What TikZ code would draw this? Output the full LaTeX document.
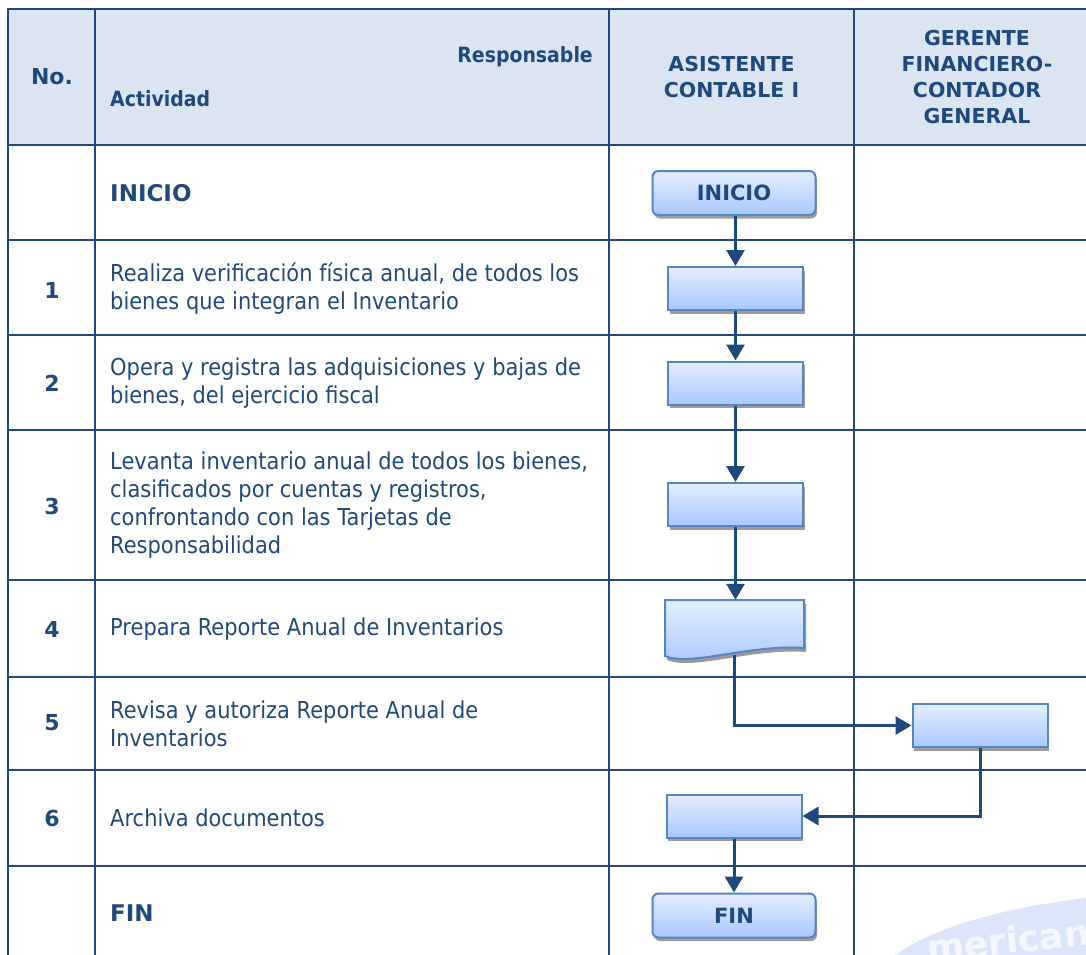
\documentclass[tikz,border=0pt]{standalone}
\usepackage{fontspec}
\setmainfont{DejaVu Sans}[FakeStretch=0.9]
\newfontfamily\capsfont{DejaVu Sans}
\usetikzlibrary{arrows.meta,shadows,calc}
\definecolor{navy}{HTML}{1F497D}
\definecolor{hdrfill}{HTML}{DBE5F1}
\definecolor{boxtop}{HTML}{E4EEFF}
\definecolor{boxbot}{HTML}{A8C8FF}
\definecolor{boxedge}{HTML}{5585C5}
\definecolor{wmblue}{HTML}{DCE6FA}
\begin{document}
\begin{tikzpicture}[x=1pt,y=-1pt,
  grid/.style={draw=navy, line width=2.8pt},
  stepbox/.style={draw=boxedge, line width=2pt, top color=boxtop, bottom color=boxbot,
    minimum width=135pt, minimum height=43pt, inner sep=0pt,
    drop shadow={shadow xshift=1.5pt, shadow yshift=-3.5pt, fill=black!45, opacity=.85}},
  termbox/.style={stepbox, rounded corners=6pt, minimum width=163pt, minimum height=44pt,
    font=\capsfont\bfseries\fontsize{21}{24}\selectfont, text=navy},
  docarea/.style={minimum width=139pt, minimum height=55pt, inner sep=0pt},
  num/.style={font=\capsfont\bfseries\fontsize{22}{24}\selectfont, text=navy, inner sep=0pt},
  capl/.style={font=\capsfont\bfseries\fontsize{23}{24}\selectfont, text=navy, inner sep=0pt, anchor=west},
  hdrb/.style={font=\bfseries\fontsize{21}{24}\selectfont, text=navy, inner sep=0pt},
  hdrc/.style={font=\capsfont\bfseries\fontsize{20.5}{26}\selectfont, text=navy, inner sep=0pt, align=center},
  act/.style={anchor=west, align=left, font=\fontsize{23.3}{28}\selectfont, text=navy, inner sep=0pt},
  conn/.style={draw=navy, line width=3pt, -{Triangle[width=18pt,length=16pt]}}
]
\useasboundingbox (0,0) rectangle (1086,954);
\clip (0,0) rectangle (1086,954);

% watermark
\fill[wmblue] (1195,1000) ellipse [x radius=330, y radius=108];
\node[font=\capsfont\bfseries\fontsize{36}{40}\selectfont, text=white, opacity=.7, rotate=6,
  anchor=base west, inner sep=0pt] (wmtext) at (928,962) {merican};

% header
\fill[hdrfill] (8,9) rectangle (1086,145);

% grid
\foreach \yy in {9,145,240,335,430,580,677,770,866}
  \draw[grid] (6.6,\yy) -- (1090,\yy);
\foreach \xx in {8,95,609,854}
  \draw[grid] (\xx,7.6) -- (\xx,960);

% header texts
\node[num] (hno) at (52,77) {No.};
\node[hdrb, anchor=east] (hresp) at (593,57) {Responsable};
\node[hdrb, anchor=west] (hact) at (110,99) {Actividad};
\node[hdrc] (hasis) at (731.5,77) {ASISTENTE\\CONTABLE I};
\node[hdrc] (hger) at (977,77) {GERENTE\\FINANCIERO-\\CONTADOR\\GENERAL};

% row texts
\node[capl] (linicio) at (110,193) {INICIO};
\node[num] (n1) at (52,290) {1};
\node[act] (t1) at (110,289) {Realiza verificación física anual, de todos los\\bienes que integran el Inventario};
\node[num] (n2) at (52,383) {2};
\node[act] (t2) at (110,383) {Opera y registra las adquisiciones y bajas de\\bienes, del ejercicio fiscal};
\node[num] (n3) at (52,506) {3};
\node[act] (t3) at (110,505) {Levanta inventario anual de todos los bienes,\\clasificados por cuentas y registros,\\confrontando con las Tarjetas de\\Responsabilidad};
\node[num] (n4) at (52,629) {4};
\node[act] (t4) at (110,629) {Prepara Reporte Anual de Inventarios};
\node[num] (n5) at (52,723) {5};
\node[act] (t5) at (110,724) {Revisa y autoriza Reporte Anual de\\Inventarios};
\node[num] (n6) at (52,818) {6};
\node[act] (t6) at (110,818) {Archiva documentos};
\node[capl] (lfin) at (110,913) {FIN};

% flow shapes
\node[termbox] (inicio) at (734,193) {INICIO};
\node[stepbox] (b1) at (735.5,288.5) {};
\node[stepbox] (b2) at (735.5,383) {};
\node[stepbox] (b3) at (735.5,504.5) {};
\node[docarea] (doc) at (734.5,627.5) {};
\fill[black!40] (667,604) -- (806,604) -- (806,652) .. controls (752,648) and (692,671) .. (667,660) -- cycle;
\shade[top color=boxtop, bottom color=boxbot, draw=boxedge, line width=2pt]
  (665,600) -- (804,600) -- (804,648) .. controls (750,644) and (690,667) .. (665,656) -- cycle;
\node[stepbox] (b5) at (980,725.5) {};
\node[stepbox] (b6) at (734,816) {};
\node[termbox] (fin) at (734,915.5) {FIN};

% connectors
\draw[conn] (inicio.south -| b1.north) -- (b1.north);
\draw[conn] (b1.south) -- (b2.north);
\draw[conn] (b2.south) -- (b3.north);
\draw[conn] (b3.south) -- (b3.south |- doc.north);
\draw[conn] (doc.south) |- (b5.west);
\draw[conn] (b5.south) |- (b6.east);
\draw[conn] (b6.south) -- (fin.north);
\end{tikzpicture}
\end{document}
